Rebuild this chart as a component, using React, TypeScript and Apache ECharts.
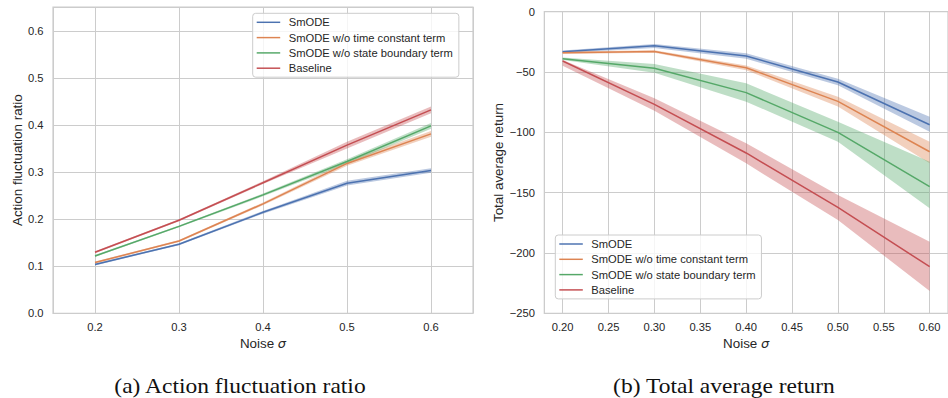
import React, { useEffect, useRef } from "react";
import * as echarts from "echarts";

// ---- data ----
const noise = [0.2, 0.3, 0.4, 0.5, 0.6];
const seriesNames = [
  "SmODE",
  "SmODE w/o time constant term",
  "SmODE w/o state boundary term",
  "Baseline",
];

// (a) Action fluctuation ratio
const fluctSmODE = [0.104, 0.147, 0.215, 0.277, 0.304];
const fluctSmODELo = [0.102, 0.145, 0.212, 0.272, 0.299];
const fluctSmODEHi = [0.106, 0.149, 0.218, 0.282, 0.309];
const fluctNoTime = [0.108, 0.154, 0.233, 0.319, 0.382];
const fluctNoTimeLo = [0.106, 0.152, 0.23, 0.314, 0.376];
const fluctNoTimeHi = [0.11, 0.156, 0.236, 0.324, 0.388];
const fluctNoState = [0.122, 0.185, 0.252, 0.323, 0.399];
const fluctNoStateLo = [0.12, 0.183, 0.249, 0.318, 0.393];
const fluctNoStateHi = [0.124, 0.187, 0.255, 0.328, 0.405];
const fluctBase = [0.13, 0.198, 0.278, 0.358, 0.433];
const fluctBaseLo = [0.128, 0.196, 0.275, 0.351, 0.426];
const fluctBaseHi = [0.132, 0.2, 0.281, 0.365, 0.44];

// (b) Total average return
const retSmODE = [-33.2, -28.2, -36.7, -58.3, -93.7];
const retSmODELo = [-34.2, -30.0, -39.0, -61.0, -99.5];
const retSmODEHi = [-32.2, -26.7, -34.5, -55.5, -87.0];
const retNoTime = [-34.0, -32.9, -46.4, -74.3, -116.1];
const retNoTimeLo = [-35.0, -34.0, -48.5, -78.5, -125.7];
const retNoTimeHi = [-33.0, -32.0, -44.5, -70.5, -107.7];
const retNoState = [-39.0, -46.9, -67.1, -100.0, -145.0];
const retNoStateLo = [-40.0, -50.6, -74.6, -107.8, -163.0];
const retNoStateHi = [-38.0, -43.4, -59.4, -91.2, -124.3];
const retBase = [-40.9, -76.8, -117.1, -162.2, -211.4];
const retBaseLo = [-44.8, -82.1, -125.7, -172.7, -231.5];
const retBaseHi = [-40.0, -71.8, -109.0, -152.0, -190.7];

const colors = ["#4c72b0", "#dd8452", "#55a868", "#c44e52"];

const captionA = "(a) Action fluctuation ratio";
const captionB = "(b) Total average return";

function rgba(hex: string, a: number) {
  const r = parseInt(hex.slice(1, 3), 16);
  const g = parseInt(hex.slice(3, 5), 16);
  const b = parseInt(hex.slice(5, 7), 16);
  return `rgba(${r},${g},${b},${a})`;
}

function lineSeries(name: string, idx: number, ys: number[], color: string) {
  return {
    type: "line",
    name,
    xAxisIndex: idx,
    yAxisIndex: idx,
    data: noise.map((x, i) => [x, ys[i]]),
    symbol: "none",
    showSymbol: false,
    lineStyle: { width: 1.5, color },
    itemStyle: { color },
    z: 3,
  };
}

function bandSeries(name: string, idx: number, lo: number[], hi: number[], color: string) {
  return {
    type: "custom",
    name,
    xAxisIndex: idx,
    yAxisIndex: idx,
    silent: true,
    z: 2,
    data: [[noise[0], lo[0]]],
    renderItem: (_params: any, api: any) => {
      const pts: number[][] = [];
      for (let i = 0; i < noise.length; i++) pts.push(api.coord([noise[i], hi[i]]));
      for (let i = noise.length - 1; i >= 0; i--) pts.push(api.coord([noise[i], lo[i]]));
      return {
        type: "polygon",
        shape: { points: pts },
        style: { fill: rgba(color, 0.38), stroke: "none" },
      };
    },
  };
}

const FONT = "Liberation Sans";
const TICK = "#262626";
const GRIDC = "#cccccc";

function legend(idx: number, left: number, top: number) {
  return {
    data: seriesNames.map((n) => ({ name: n, icon: "path://M0,0 L24,0 L24,1.5 L0,1.5 Z" })),
    orient: "vertical",
    left,
    top,
    itemWidth: 23.5,
    itemHeight: 12,
    itemGap: 4.3,
    padding: [3.5, 6, 3.5, 4],
    backgroundColor: "rgba(255,255,255,0.8)",
    borderColor: "#cccccc",
    borderWidth: 1,
    borderRadius: 3,
    selectedMode: false,
    textStyle: { fontFamily: FONT, fontSize: 11.2, color: TICK, padding: [0, 0, 0, 3.5] },
  };
}

const App: React.FC = () => {
  const ref = useRef<HTMLDivElement>(null);
  useEffect(() => {
    if (!ref.current) return;
    const chart = echarts.init(ref.current, undefined, { renderer: "svg" });
    const axisName = {
      fontFamily: FONT,
      fontSize: 13.4,
      color: TICK,
      rich: { s: { fontStyle: "italic", fontFamily: "DejaVu Sans", fontSize: 13, color: TICK } },
    };
    const common = {
      axisLine: { show: false },
      axisTick: { show: false },
      splitLine: { show: true, lineStyle: { color: GRIDC, width: 1 } },
    };
    const option: any = {
      animation: false,
      backgroundColor: "#ffffff",
      grid: [
        { left: 53, right: 475, top: 7, bottom: 84.7, show: true, borderColor: GRIDC, borderWidth: 1.2, backgroundColor: "transparent" },
        { left: 544.3, right: -6.4, top: 11.7, bottom: 84.7, show: true, borderColor: GRIDC, borderWidth: 1.2, backgroundColor: "transparent" },
      ],
      xAxis: [
        {
          type: "value",
          gridIndex: 0,
          min: 0.15,
          max: 0.65,
          splitNumber: 5,
          ...common,
          axisLabel: {
            fontFamily: FONT, fontSize: 11.2, color: TICK, margin: 8,
            showMinLabel: false, showMaxLabel: false,
            formatter: (v: number) => v.toFixed(1),
          },
          name: "Noise {s|σ}",
          nameLocation: "middle",
          nameGap: 23,
          nameTextStyle: axisName,
        },
        {
          type: "value",
          gridIndex: 1,
          min: 0.18,
          max: 0.62,
          splitNumber: 9,
          ...common,
          axisLabel: {
            fontFamily: FONT, fontSize: 11.2, color: TICK, margin: 8,
            showMinLabel: false, showMaxLabel: false,
            formatter: (v: number) => v.toFixed(2),
          },
          name: "Noise {s|σ}",
          nameLocation: "middle",
          nameGap: 23,
          nameTextStyle: axisName,
        },
      ],
      yAxis: [
        {
          type: "value",
          gridIndex: 0,
          min: 0,
          max: 0.652,
          interval: 0.1,
          ...common,
          axisLabel: {
            fontFamily: FONT, fontSize: 11.2, color: TICK, margin: 9.5,
            showMaxLabel: false,
            formatter: (v: number) => v.toFixed(1),
          },
          name: "Action fluctuation ratio",
          nameLocation: "middle",
          nameGap: 28.5,
          nameTextStyle: axisName,
        },
        {
          type: "value",
          gridIndex: 1,
          min: -250,
          max: 0,
          interval: 50,
          ...common,
          axisLabel: {
            fontFamily: FONT, fontSize: 11.2, color: TICK, margin: 9.3,
            formatter: (v: number) => String(Math.round(v)).replace("-", "\u2212"),
          },
          name: "Total average return",
          nameLocation: "middle",
          nameGap: 39.5,
          nameTextStyle: axisName,
        },
      ],
      legend: [legend(0, 252.7, 13.3), legend(1, 555.3, 235)],
      series: [
        bandSeries("bandA0", 0, fluctSmODELo, fluctSmODEHi, colors[0]),
        bandSeries("bandA1", 0, fluctNoTimeLo, fluctNoTimeHi, colors[1]),
        bandSeries("bandA2", 0, fluctNoStateLo, fluctNoStateHi, colors[2]),
        bandSeries("bandA3", 0, fluctBaseLo, fluctBaseHi, colors[3]),
        lineSeries(seriesNames[0], 0, fluctSmODE, colors[0]),
        lineSeries(seriesNames[1], 0, fluctNoTime, colors[1]),
        lineSeries(seriesNames[2], 0, fluctNoState, colors[2]),
        lineSeries(seriesNames[3], 0, fluctBase, colors[3]),
        bandSeries("bandB0", 1, retSmODELo, retSmODEHi, colors[0]),
        bandSeries("bandB1", 1, retNoTimeLo, retNoTimeHi, colors[1]),
        bandSeries("bandB2", 1, retNoStateLo, retNoStateHi, colors[2]),
        bandSeries("bandB3", 1, retBaseLo, retBaseHi, colors[3]),
        lineSeries(seriesNames[0], 1, retSmODE, colors[0]),
        lineSeries(seriesNames[1], 1, retNoTime, colors[1]),
        lineSeries(seriesNames[2], 1, retNoState, colors[2]),
        lineSeries(seriesNames[3], 1, retBase, colors[3]),
      ],
      graphic: [
        {
          type: "text",
          x: 240,
          y: 386,
          scaleX: 1.12,
          style: { text: captionA, x: 0, y: 0, align: "center", verticalAlign: "middle", fontFamily: "Liberation Serif", fontSize: 21, fill: "#111111" },
        },
        {
          type: "text",
          x: 724,
          y: 386,
          scaleX: 1.12,
          style: { text: captionB, x: 0, y: 0, align: "center", verticalAlign: "middle", fontFamily: "Liberation Serif", fontSize: 21, fill: "#111111" },
        },
      ],
    };
    chart.setOption(option);
    return () => chart.dispose();
  }, []);
  return (
    <div
      ref={ref}
      style={{ position: "fixed", left: 0, top: 0, width: 948, height: 398, overflow: "hidden" }}
    />
  );
};

export default App;
